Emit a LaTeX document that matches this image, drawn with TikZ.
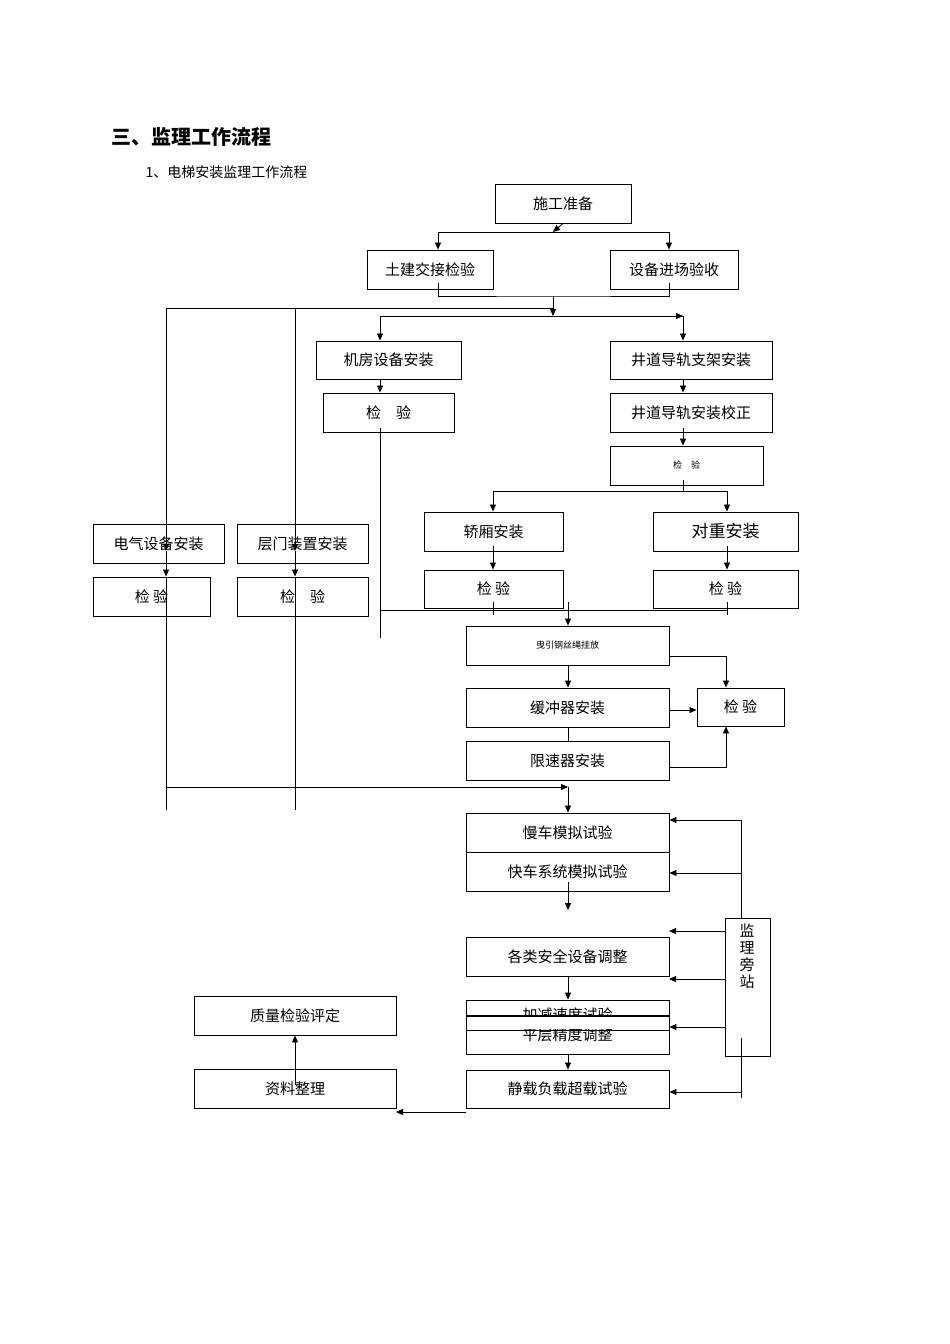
\documentclass[tikz,border=0pt]{standalone}
\usepackage{fontspec}
\setmainfont{Noto Sans CJK SC}
\usetikzlibrary{arrows.meta,positioning,calc}
\tikzset{
  >={Triangle[length=7pt,width=6pt]},
  box/.style={draw, line width=0.9pt, inner sep=0pt, font=\fontsize{15}{18}\selectfont},
  arr/.style={->, line width=0.8pt},
  ln/.style={line width=0.8pt}
}
% box from corner to corner (pixel units)
\newcommand\flowbox[6]{%
  \node[box, minimum width={(#4-#2)*1pt}, minimum height={(#5-#3)*1pt}]
    (#1) at ({(#2+#4)/2},{(#3+#5)/2}) {#6};}
\begin{document}
\begin{tikzpicture}[x=1pt,y=-1pt]
  \useasboundingbox (0,0) rectangle (950,1344);
  % headings
  \node[anchor=west, font=\fontsize{20}{24}\selectfont\bfseries] (ttl) at (108,137) {三、监理工作流程};
  \node[anchor=west, font=\fontsize{14}{17}\selectfont] (sub) at (142,172) {1、电梯安装监理工作流程};

  % boxes
  \flowbox{sg}{495}{184}{631}{223}{施工准备}
  \flowbox{tj}{367}{250}{493}{289}{土建交接检验}
  \flowbox{sb}{610}{250}{738}{289}{设备进场验收}
  \flowbox{jf}{316}{341}{461}{379}{机房设备安装}
  \flowbox{jfj}{323}{393}{454}{432}{检\quad 验}
  \flowbox{zj}{610}{341}{772}{379}{井道导轨支架安装}
  \flowbox{jz}{610}{393}{772}{432}{井道导轨安装校正}
  \flowbox{jzj}{610}{446}{763}{485}{\small 检\quad 验}
  \flowbox{jx}{424}{512}{563}{551}{轿厢安装}
  \flowbox{dz}{653}{512}{798}{551}{\fontsize{17}{20}\selectfont 对重安装}
  \flowbox{jxj}{424}{570}{563}{608}{检\ 验}
  \flowbox{dzj}{653}{570}{798}{608}{检\ 验}
  \flowbox{dq}{93}{524}{224}{563}{电气设备安装}
  \flowbox{dqj}{93}{577}{210}{616}{检\ 验}
  \flowbox{cm}{237}{524}{368}{563}{层门装置安装}
  \flowbox{cmj}{237}{577}{368}{616}{检\quad 验}
  \flowbox{gs}{466}{626}{669}{665}{\small 曳引钢丝绳挂放}
  \flowbox{hc}{466}{688}{669}{727}{缓冲器安装}
  \flowbox{hj}{697}{688}{784}{726}{检\ 验}
  \flowbox{xs}{466}{741}{669}{780}{限速器安装}
  \flowbox{mc}{466}{813}{669}{852}{慢车模拟试验}
  \flowbox{kc}{466}{852}{669}{891}{快车系统模拟试验}
  \flowbox{aq}{466}{937}{669}{976}{各类安全设备调整}
  \flowbox{js}{466}{1000}{669}{1030}{加减速度试验}
  \flowbox{pc}{466}{1016}{669}{1054}{平层精度调整}
  \flowbox{jc}{466}{1070}{669}{1108}{静载负载超载试验}
  \flowbox{zl}{194}{1069}{396}{1108}{资料整理}
  \flowbox{zp}{194}{996}{396}{1035}{质量检验评定}
  \node[box, minimum width=45pt, minimum height=138pt, align=center, anchor=north west]
    (pz) at (725,918) {};
  \node[font=\fontsize{15}{17}\selectfont, align=center, anchor=north] (pzt) at (747,920) {监\\理\\旁\\站};
  \fill[white] (467,1017) rectangle (668,1029);
  \draw[line width=0.9pt] (pc.north west) -- (pc.north east);

  % junctions
  \coordinate (t1) at (553,232);
  \coordinate (t2) at (553,296);
  \coordinate (t3) at (553,316);
  \coordinate (t4) at (683,491);
  \coordinate (t5) at (568,610);
  \coordinate (t6) at (568,787);
  \coordinate (rb) at (741,820);

  % top
  \draw[arr] (sg.south) -- (t1);
  \draw[arr] (t1) -| (tj.north -| 438,0);
  \draw[arr] (t1) -| (sb.north -| 669,0);
  \draw[ln] (438,283) |- (t2) -| (669,283);
  \draw[arr] (t2) -- (t3);
  \draw[ln] (t2 |- 0,308) -- (166,308);
  \draw[arr] (380,316) -- (683,316);
  \draw[arr] (t3) -| (jf.north -| 380,0);
  \draw[arr] (t3) -| (zj.north -| 683,0);
  \draw[arr] (166,308) -- (166,551);
  \draw[arr] (166,551) -- (dqj.north -| 166,0);
  \draw[ln] (166,577) -- (166,810);
  \draw[arr] (295,308) -- (295,551);
  \draw[arr] (295,551) -- (cmj.north -| 295,0);
  \draw[ln] (295,577) -- (295,810);

  % middle left and right columns
  \draw[arr] (jf.south -| 380,0) -- (jfj.north -| 380,0);
  \draw[ln] (380,428) -- (380,638);
  \draw[arr] (zj.south -| 683,0) -- (jz.north -| 683,0);
  \draw[arr] (683,428) -- (jzj.north -| 683,0);
  \draw[ln] (683,480) -- (t4);
  \draw[arr] (t4) -| (jx.north -| 493,0);
  \draw[arr] (t4) -| (dz.north -| 727,0);
  \draw[arr] (493,546) -- (jxj.north -| 493,0);
  \draw[arr] (727,546) -- (dzj.north -| 727,0);
  \draw[ln] (380,610) -- (727,610);
  \draw[ln] (493,602) -- (493,615);
  \draw[ln] (727,602) -- (727,615);
  \draw[arr] (568,602) -- (gs.north -| 568,0);

  % machine group
  \draw[arr] (gs.south -| 568,0) -- (hc.north -| 568,0);
  \draw[arr] (669,656) -| (hj.north -| 726,0);
  \draw[arr] (669,710) -- (hj.west |- 0,710);
  \draw[ln] (hc.south -| 568,0) -- (xs.north -| 568,0);
  \draw[arr] (669,767) -| (hj.south -| 726,0);
  \draw[arr] (166,787) -- (t6);
  \draw[arr] (t6) -- (mc.north -| 568,0);

  % tests
  \draw[arr] (568,882) -- (568,910);
  \draw[arr] (aq.south -| 568,0) -- (js.north -| 568,0);
  \draw[arr] (pc.south -| 568,0) -- (jc.north -| 568,0);
  \draw[ln] (rb) -- (741,918);
  \draw[ln] (741,1038) -- (741,1098);
  \draw[arr] (rb) -- (mc.east |- rb);
  \draw[arr] (741,873) -- (kc.east |- 0,873);
  \draw[arr] (pz.west |- 0,931) -- (669,931);
  \draw[arr] (pz.west |- 0,979) -- (669,979);
  \draw[arr] (pz.west |- 0,1027) -- (pc.east |- 0,1027);
  \draw[arr] (741,1092) -- (jc.east |- 0,1092);
  \draw[arr] (466,1112) -- (396,1112);
  \draw[arr] (295,1085) -- (zp.south -| 295,0);
\end{tikzpicture}
\end{document}
